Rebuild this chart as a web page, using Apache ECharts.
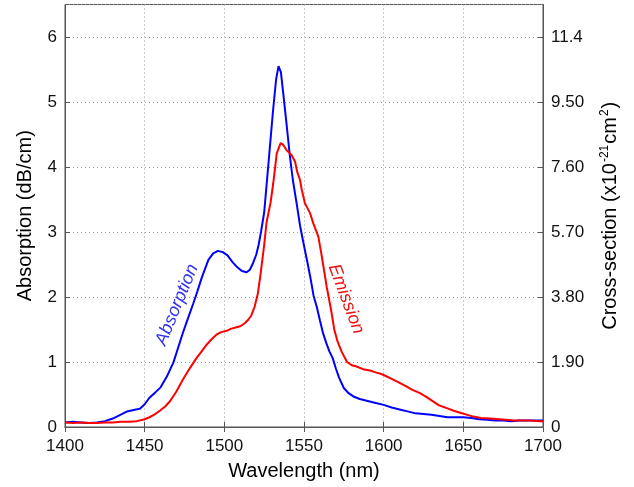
<!DOCTYPE html>
<html><head><meta charset="utf-8">
<script src="https://cdn.jsdelivr.net/npm/echarts@6/dist/echarts.min.js"></script>
<style>html,body{margin:0;padding:0;background:#fff}#c{width:634px;height:487px}</style>
</head><body><div id="c"></div>
<script>
const absWl = [1400,1405,1410,1415,1420,1425,1430,1435,1439,1443,1447,1450,1453,1457,1460,1464,1468,1471,1474,1477,1480.5,1483,1486,1490,1493,1496,1499,1502,1505,1508,1511,1514,1516,1518,1520,1521.5,1523,1525,1527.5,1530.5,1532.5,1534,1535.5,1537,1539,1541,1543,1545.5,1547.5,1549.5,1552,1554,1556,1558,1560,1562,1564,1566,1568,1570,1572,1575,1578,1581,1585,1590,1595,1600,1605,1610,1615,1620,1625,1630,1635,1640,1645,1650,1655,1660,1665,1670,1675,1680,1685,1690,1695,1700];
const absVal = [0.07,0.08,0.07,0.06,0.07,0.09,0.13,0.19,0.24,0.26,0.28,0.35,0.45,0.54,0.61,0.78,0.99,1.22,1.45,1.66,1.90,2.08,2.31,2.57,2.67,2.71,2.69,2.64,2.54,2.46,2.40,2.38,2.42,2.52,2.65,2.80,3.00,3.30,4.00,4.85,5.35,5.55,5.46,5.13,4.67,4.20,3.80,3.42,3.10,2.85,2.55,2.30,2.02,1.85,1.64,1.44,1.29,1.16,1.06,0.90,0.76,0.60,0.52,0.47,0.43,0.40,0.37,0.34,0.30,0.27,0.24,0.21,0.20,0.19,0.17,0.15,0.15,0.15,0.14,0.12,0.11,0.10,0.10,0.09,0.10,0.10,0.10,0.10];
const emWl = [1400,1405,1410,1415,1420,1425,1430,1435,1440,1445,1450,1453,1456,1459.5,1463,1466,1470,1474,1478.5,1482.5,1486,1489,1492,1495,1498,1501.5,1504,1507,1510,1513,1515,1517,1519,1521,1522.5,1524,1525,1526.5,1529,1530.7,1532.9,1535.4,1537,1539,1542.3,1544.4,1545.8,1547.5,1548.6,1550.6,1553.8,1556,1559,1561,1564.3,1567,1569,1571,1573.6,1577,1580,1583,1587,1591.4,1595,1598,1600,1606,1610,1614.5,1618,1622.8,1627,1631.2,1635,1639.6,1644,1648,1652,1656.3,1661,1667,1672,1677,1682,1687,1692,1698,1700];
const emVal = [0.07,0.06,0.07,0.06,0.06,0.07,0.07,0.08,0.08,0.09,0.12,0.15,0.19,0.25,0.32,0.40,0.55,0.73,0.91,1.06,1.17,1.27,1.35,1.42,1.46,1.48,1.51,1.53,1.55,1.60,1.65,1.72,1.85,2.05,2.31,2.60,2.80,3.15,3.45,3.75,4.21,4.37,4.34,4.26,4.18,4.08,3.92,3.80,3.65,3.44,3.29,3.12,2.93,2.65,2.15,1.80,1.50,1.32,1.16,1.00,0.95,0.93,0.89,0.87,0.84,0.82,0.80,0.73,0.68,0.62,0.57,0.52,0.46,0.39,0.33,0.29,0.25,0.22,0.19,0.16,0.14,0.13,0.12,0.11,0.10,0.10,0.10,0.09,0.09];
const xTicks = {min:1400, max:1700, interval:50};
const yLeft = {min:0, max:6.5, interval:1};
const yRight = {min:0, max:12.35, interval:1.9};
const labels = [
  {text:'Absorption', x:1470.3, y:1.88, color:'#3333ee', angle:67.6},
  {text:'Emission', x:1576.4, y:1.97, color:'#ee1111', angle:-69.5}
];

const FONT = "'Liberation Sans', Arial, sans-serif";
const frame = '#555';
const chart = echarts.init(document.getElementById('c'));
const pair = (xs, ys) => xs.map((x,i)=>[x, ys[i]]);
const tickStyle = {inside:true, length:5, lineStyle:{color:frame}};
chart.setOption({
  animation:false,
  grid:{left:65, right:91, top:4.5, bottom:60, show:true, borderColor:frame, borderWidth:1},
  xAxis:[{
    type:'value', min:xTicks.min, max:xTicks.max, interval:xTicks.interval,
    name:'Wavelength (nm)', nameLocation:'middle', nameGap:34,
    nameTextStyle:{fontFamily:FONT, fontSize:20, color:'#000'},
    axisLine:{lineStyle:{color:frame}}, axisTick:tickStyle,
    axisLabel:{fontFamily:FONT, fontSize:17, color:'#111', margin:11, formatter:v => String(v)},
    splitLine:{show:true, lineStyle:{color:'#999', type:[1,3], width:1}}
  },{
    type:'value', position:'top', min:xTicks.min, max:xTicks.max, interval:xTicks.interval,
    axisLine:{lineStyle:{color:frame}}, axisTick:tickStyle, axisLabel:{show:false}, splitLine:{show:false}
  }],
  yAxis:[{
    type:'value', min:yLeft.min, max:yLeft.max, interval:yLeft.interval,
    name:'Absorption (dB/cm)', nameLocation:'middle', nameRotate:90, nameGap:30,
    nameTextStyle:{fontFamily:FONT, fontSize:20, color:'#000'},
    axisLine:{show:true, lineStyle:{color:frame}}, axisTick:tickStyle,
    axisLabel:{fontFamily:FONT, fontSize:17, color:'#111', margin:8, showMaxLabel:false},
    splitLine:{show:true, lineStyle:{color:'#999', type:[1,3], width:1}}
  },{
    type:'value', position:'right', min:yRight.min, max:yRight.max, interval:yRight.interval,
    name:'Cross-section (x10{sup|-21}cm{sup|2})', nameLocation:'middle', nameRotate:90, nameGap:56,
    nameTextStyle:{fontFamily:FONT, fontSize:20, color:'#000',
      rich:{sup:{fontFamily:FONT, fontSize:12, color:'#000', verticalAlign:'top', padding:[0,1,10,1]}}},
    axisLine:{show:true, lineStyle:{color:frame}}, axisTick:tickStyle,
    axisLabel:{fontFamily:FONT, fontSize:17, color:'#111', margin:8, showMaxLabel:false,
      formatter:v => v===0 ? '0' : (v>=10 ? v.toFixed(1) : v.toFixed(2))},
    splitLine:{show:false}
  }],
  series:[
    {type:'line', name:'Absorption', data:pair(absWl, absVal), showSymbol:false, lineStyle:{color:'#0000ff', width:2}, itemStyle:{color:'#0000ff'}},
    {type:'line', name:'Emission', data:pair(emWl, emVal), showSymbol:false, lineStyle:{color:'#ff0000', width:2}, itemStyle:{color:'#ff0000'}}
  ]
});
const g = labels.map(l => {
  const p = chart.convertToPixel({xAxisIndex:0, yAxisIndex:0}, [l.x, l.y]);
  return {type:'text', x:p[0], y:p[1], rotation:l.angle*Math.PI/180,
    style:{text:l.text, fill:l.color, font:"italic 18px " + FONT, align:'center', verticalAlign:'middle'}};
});
chart.setOption({graphic:g});
</script></body></html>
